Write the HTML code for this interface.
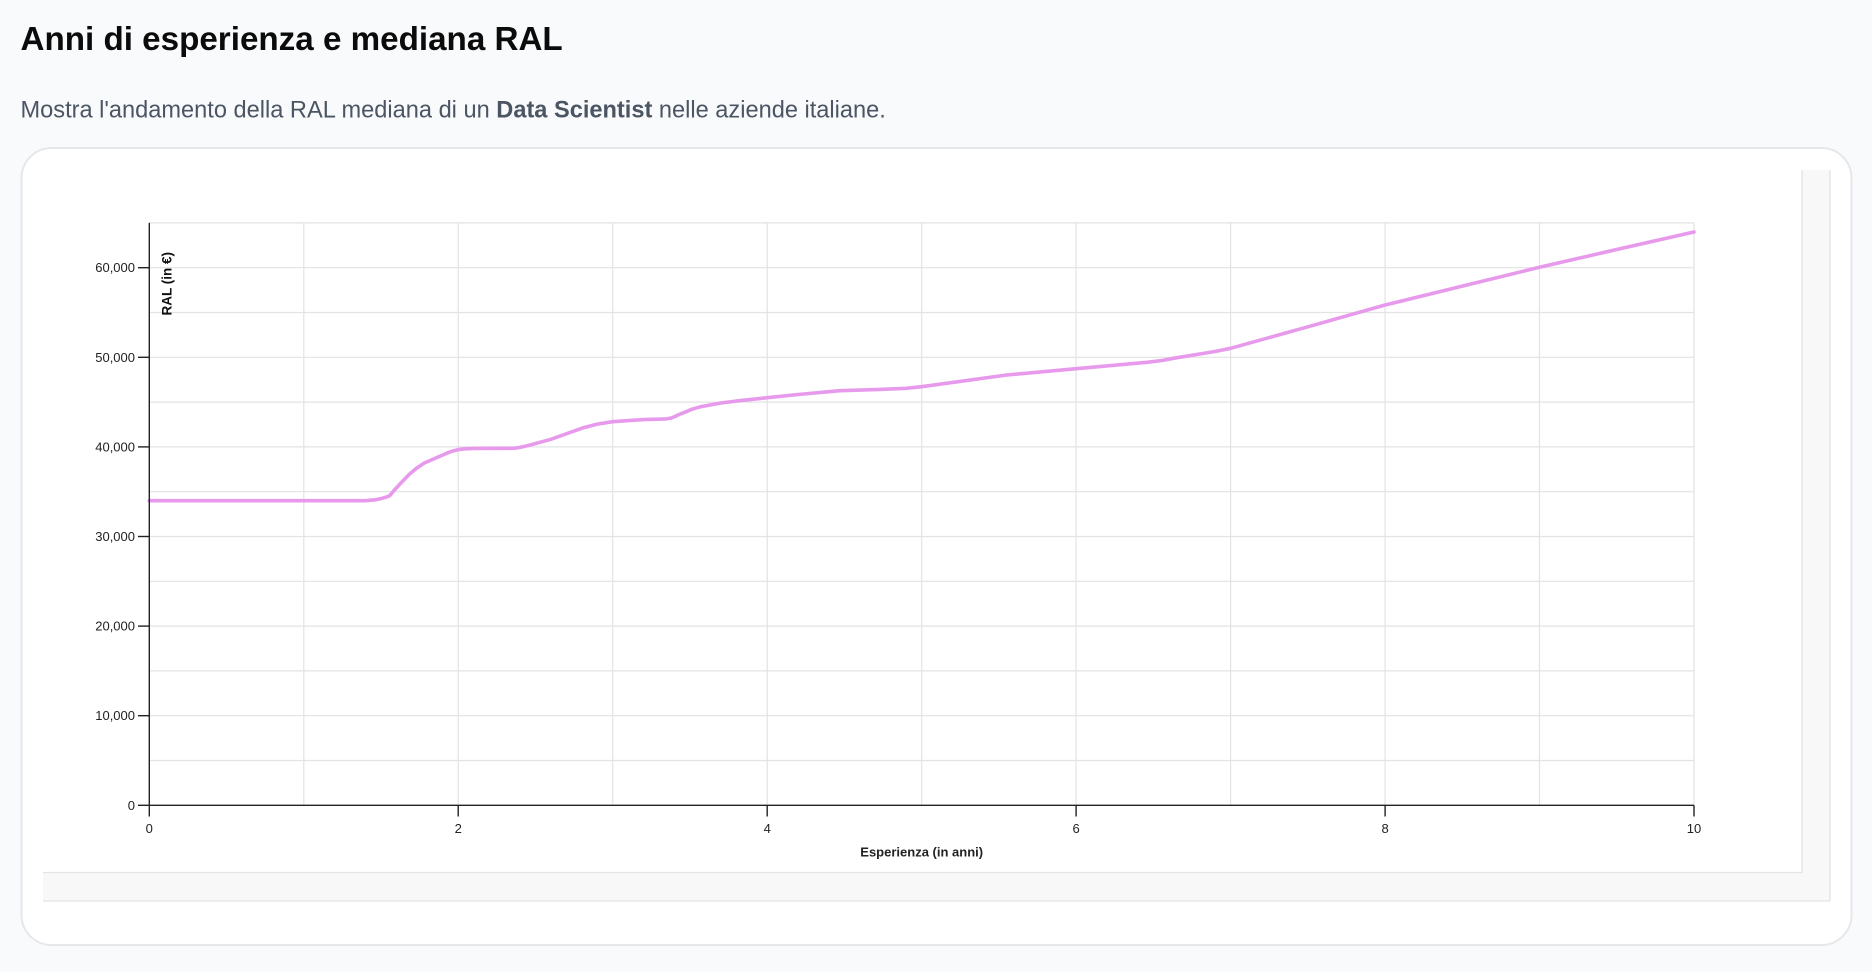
<!DOCTYPE html>
<html>
<head>
<meta charset="utf-8">
<style>
  html, body { margin: 0; padding: 0; background: #f9fafb; }
  body { width: 1872px; height: 972px; overflow: hidden; }
  svg { display: block; }
</style>
</head>
<body>
<svg width="1872" height="972" viewBox="0 0 1872 972" xmlns="http://www.w3.org/2000/svg">
  <rect x="0" y="0" width="1872" height="972" fill="#f9fafb"/>

  <!-- Title & subtitle -->
  <text x="20.5" y="50" font-family="'Liberation Sans', Arial, sans-serif" font-weight="bold" font-size="33.2" fill="#0b0b0b">Anni di esperienza e mediana RAL</text>
  <text x="20.5" y="117.3" font-family="'Liberation Sans', Arial, sans-serif" font-size="23.6" fill="#4b5563">Mostra l'andamento della RAL mediana di un <tspan font-weight="bold">Data Scientist</tspan> nelle aziende italiane.</text>

  <!-- Card -->
  <rect x="21.5" y="148" width="1830" height="797" rx="30" ry="30" fill="#ffffff" stroke="#e5e7eb" stroke-width="2"/>

  <!-- Scroll container tracks -->
  <rect x="43" y="170" width="1787" height="731" fill="#f8f8f8"/>
  <rect x="43" y="170" width="1759" height="702" fill="#ffffff"/>
  <line x1="1802" y1="170" x2="1802" y2="872.5" stroke="#e3e3e3" stroke-width="1.3"/>
  <line x1="43" y1="872.5" x2="1802" y2="872.5" stroke="#e3e3e3" stroke-width="1.3"/>
  <line x1="1830" y1="170" x2="1830" y2="901" stroke="#e3e3e3" stroke-width="1.3"/>
  <line x1="43" y1="901" x2="1830" y2="901" stroke="#e3e3e3" stroke-width="1.3"/>

  <!-- Grid: horizontal -->
  <g stroke="#e3e3e3" stroke-width="1.2">
    <line x1="149.3" y1="760.5" x2="1694" y2="760.5"/>
    <line x1="149.3" y1="715.7" x2="1694" y2="715.7"/>
    <line x1="149.3" y1="670.9" x2="1694" y2="670.9"/>
    <line x1="149.3" y1="626.1" x2="1694" y2="626.1"/>
    <line x1="149.3" y1="581.3" x2="1694" y2="581.3"/>
    <line x1="149.3" y1="536.5" x2="1694" y2="536.5"/>
    <line x1="149.3" y1="491.7" x2="1694" y2="491.7"/>
    <line x1="149.3" y1="446.9" x2="1694" y2="446.9"/>
    <line x1="149.3" y1="402.1" x2="1694" y2="402.1"/>
    <line x1="149.3" y1="357.3" x2="1694" y2="357.3"/>
    <line x1="149.3" y1="312.5" x2="1694" y2="312.5"/>
    <line x1="149.3" y1="267.7" x2="1694" y2="267.7"/>
    <line x1="149.3" y1="222.9" x2="1694" y2="222.9"/>
  </g>
  <!-- Grid: vertical -->
  <g stroke="#e3e3e3" stroke-width="1.2">
    <line x1="303.8" y1="222.9" x2="303.8" y2="805.3"/>
    <line x1="458.2" y1="222.9" x2="458.2" y2="805.3"/>
    <line x1="612.7" y1="222.9" x2="612.7" y2="805.3"/>
    <line x1="767.2" y1="222.9" x2="767.2" y2="805.3"/>
    <line x1="921.7" y1="222.9" x2="921.7" y2="805.3"/>
    <line x1="1076.1" y1="222.9" x2="1076.1" y2="805.3"/>
    <line x1="1230.6" y1="222.9" x2="1230.6" y2="805.3"/>
    <line x1="1385.1" y1="222.9" x2="1385.1" y2="805.3"/>
    <line x1="1539.5" y1="222.9" x2="1539.5" y2="805.3"/>
    <line x1="1694" y1="222.9" x2="1694" y2="805.3"/>
  </g>

  <!-- Series -->
  <polyline fill="none" stroke="#e79aec" stroke-width="3.6" stroke-linejoin="round" stroke-linecap="round"
    points="149.3,500.7 365.6,500.7 375.0,499.8 381.0,498.6 386.0,497.2 389.7,495.7 394.0,490.5 399.5,484.5 408.8,474.7 416.5,468.3 424.3,463.0 433.5,459.0 445.9,453.6 452.0,451.2 458.2,449.6 465.0,448.8 473.7,448.4 513.8,448.3 520.0,447.4 527.8,445.6 550.9,439.3 583.4,427.7 597.3,424.1 612.7,421.7 643.6,419.6 666.0,418.9 671.0,418.1 675.0,416.5 679.0,414.5 683.8,412.7 692.0,409.2 700.8,406.7 720.8,403.0 739.4,400.7 767.2,397.7 798.2,394.5 839.8,390.7 880.0,389.4 906.2,388.3 921.7,386.7 1006.6,375.0 1076.1,368.7 1147.2,362.3 1162.0,360.5 1173.4,358.3 1199.7,354.0 1215.0,351.5 1230.6,348.3 1307.9,326.8 1385.1,305.0 1462.3,286.1 1539.5,267.3 1616.7,249.5 1694.0,232.0"/>

  <!-- Axes -->
  <g stroke="#222" stroke-width="1.4" fill="none">
    <line x1="149.3" y1="222.9" x2="149.3" y2="805.3"/>
    <line x1="149.3" y1="805.3" x2="1694" y2="805.3"/>
    <!-- y ticks -->
    <line x1="138" y1="805.3" x2="149.3" y2="805.3"/>
    <line x1="138" y1="715.7" x2="149.3" y2="715.7"/>
    <line x1="138" y1="626.1" x2="149.3" y2="626.1"/>
    <line x1="138" y1="536.5" x2="149.3" y2="536.5"/>
    <line x1="138" y1="446.9" x2="149.3" y2="446.9"/>
    <line x1="138" y1="357.3" x2="149.3" y2="357.3"/>
    <line x1="138" y1="267.7" x2="149.3" y2="267.7"/>
    <!-- x ticks -->
    <line x1="149.3" y1="805.3" x2="149.3" y2="816.5"/>
    <line x1="458.2" y1="805.3" x2="458.2" y2="816.5"/>
    <line x1="767.2" y1="805.3" x2="767.2" y2="816.5"/>
    <line x1="1076.1" y1="805.3" x2="1076.1" y2="816.5"/>
    <line x1="1385.1" y1="805.3" x2="1385.1" y2="816.5"/>
    <line x1="1694" y1="805.3" x2="1694" y2="816.5"/>
  </g>

  <!-- Y tick labels -->
  <g font-family="'Liberation Sans', Arial, sans-serif" font-size="13" fill="#222" text-anchor="end">
    <text x="135" y="809.8">0</text>
    <text x="135" y="720.2">10,000</text>
    <text x="135" y="630.6">20,000</text>
    <text x="135" y="541">30,000</text>
    <text x="135" y="451.4">40,000</text>
    <text x="135" y="361.8">50,000</text>
    <text x="135" y="272.2">60,000</text>
  </g>

  <!-- X tick labels -->
  <g font-family="'Liberation Sans', Arial, sans-serif" font-size="13" fill="#222" text-anchor="middle">
    <text x="149.3" y="832.8">0</text>
    <text x="458.2" y="832.8">2</text>
    <text x="767.2" y="832.8">4</text>
    <text x="1076.1" y="832.8">6</text>
    <text x="1385.1" y="832.8">8</text>
    <text x="1694" y="832.8">10</text>
  </g>

  <!-- Axis titles -->
  <text x="921.7" y="856.3" font-family="'Liberation Sans', Arial, sans-serif" font-size="13" font-weight="bold" fill="#222" text-anchor="middle">Esperienza (in anni)</text>
  <text transform="translate(171.5,252) rotate(-90)" font-family="'Liberation Sans', Arial, sans-serif" font-size="13.5" font-weight="bold" fill="#111" text-anchor="end">RAL (in €)</text>
</svg>
</body>
</html>
